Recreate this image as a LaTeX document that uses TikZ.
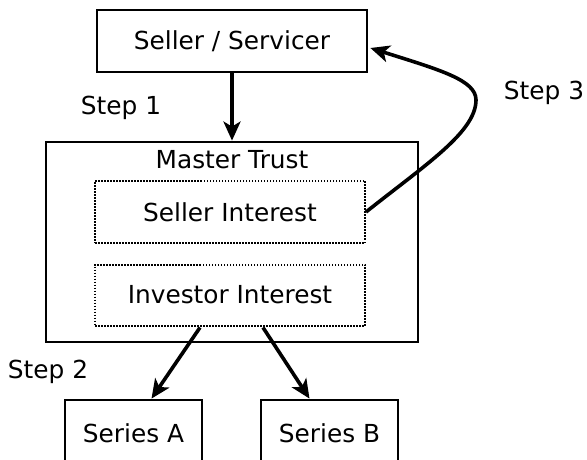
\documentclass[tikz,border=0pt]{standalone}
\usepackage{fontspec}
\setmainfont{DejaVu Sans}
\usetikzlibrary{arrows.meta,calc}
\begin{document}
\begin{tikzpicture}[x=1pt,y=-1pt,
  box/.style={draw,line width=2.8pt,inner sep=0pt,font=\fontsize{24.8}{29}\selectfont},
  dotbox/.style={draw,line width=2pt,dash pattern=on 1.5pt off 1.5pt,inner sep=0pt,font=\fontsize{24.8}{29}\selectfont},
  lbl/.style={inner sep=0pt,font=\fontsize{24.8}{29}\selectfont},
  conn/.style={line width=3.6pt,-{Stealth[length=19pt,width=17pt,inset=5pt]}}]
\clip (0,0) rectangle (587,460);
\useasboundingbox (0,0) rectangle (587,460);
\fill[white] (0,0) rectangle (587,460);
\node[box,minimum width=270pt,minimum height=62pt] (ss) at (232,41) {Seller / Servicer};
\node[box,minimum width=372pt,minimum height=200pt] (mt) at (232,242) {};
\node[lbl] (mtl) at (232,160) {Master Trust};
\node[dotbox,minimum width=270pt,minimum height=62pt] (si) at (230,212) {Seller Interest};
\node[dotbox,minimum width=270pt,minimum height=61pt] (ii) at (230,295) {Investor Interest};
\node[box,minimum width=137pt,minimum height=66pt] (sa) at (133.5,433) {Series A};
\node[box,minimum width=137pt,minimum height=66pt] (sb) at (329.5,433) {Series B};
\node[lbl] (s1) at (121,108) {Step 1};
\node[lbl] (s2) at (48,372) {Step 2};
\node[lbl] (s3) at (544,93) {Step 3};
\draw[conn] (ss.south) -- (mt.north);
\draw[conn] ($(ii.south)+(-30,1)$) -- ($(sa.north)+(18,0)$);
\draw[conn] ($(ii.south)+(33,1)$) -- ($(sb.north)+(-20,0)$);
\draw[conn] (si.east) .. controls (425,165) and (476,132) .. (476,100)
  .. controls (476,80) and (440,70) .. ($(ss.east)+(2,7)$);
\end{tikzpicture}
\end{document}
